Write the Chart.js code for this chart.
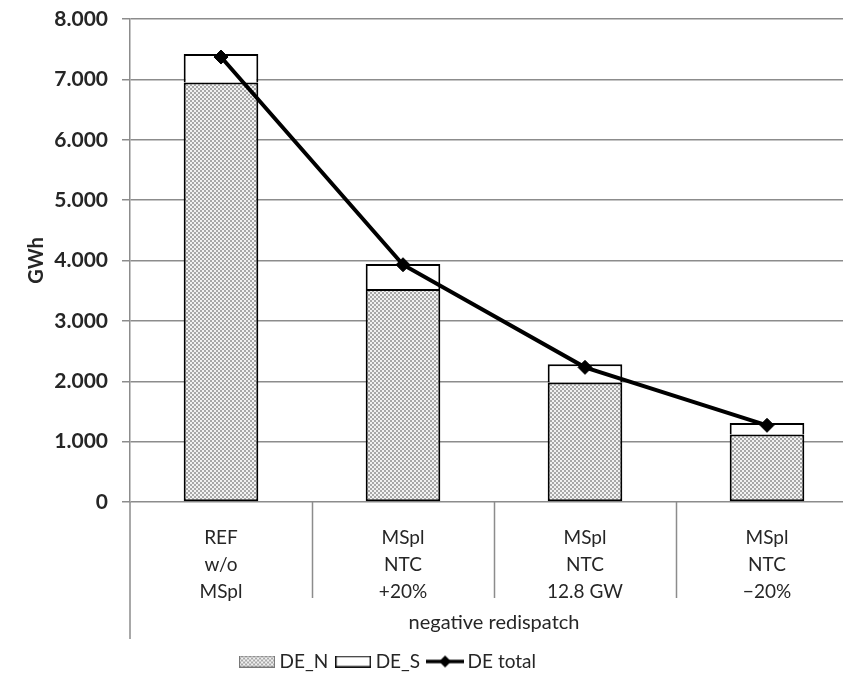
<!DOCTYPE html>
<html>
<head>
<meta charset="utf-8">
<title>Negative redispatch</title>
<script src="https://cdn.jsdelivr.net/npm/chart.js@4/dist/chart.umd.min.js"></script>
<style>
  html, body { margin: 0; padding: 0; background: #fff; overflow: hidden; }
  #c { display: block; }
</style>
</head>
<body>
<canvas id="c" width="870" height="677"></canvas>
<script>
// Scenario categories (multi-line axis labels)
const categories = [
  ['REF', 'w/o', 'MSpl'],
  ['MSpl', 'NTC', '+20%'],
  ['MSpl', 'NTC', '12.8 GW'],
  ['MSpl', 'NTC', '\u221220%']
];
// Negative redispatch volumes in GWh
const deN = [6950, 3530, 1980, 1120];
const deS = [470, 410, 300, 190];
const deTotal = [7370, 3930, 2230, 1270];
const yTicks = { min: 0, max: 8000, step: 1000 };

const canvas = document.getElementById('c');
const ctx = canvas.getContext('2d');

// Fine grey checker fill used for DE_N
function makeTile() {
  const t = document.createElement('canvas');
  t.width = 4; t.height = 4;
  const g = t.getContext('2d');
  g.fillStyle = '#a8a8a8';
  g.fillRect(0, 0, 4, 4);
  g.fillStyle = '#f2f2f2';
  g.fillRect(0, 0, 2, 2);
  g.fillRect(2, 2, 2, 2);
  return t;
}
const tile = makeTile();
const hatch = ctx.createPattern(tile, 'repeat');

// Legend symbols
function swatchN() {
  const c = document.createElement('canvas');
  c.width = 36; c.height = 12;
  const g = c.getContext('2d');
  g.fillStyle = g.createPattern(tile, 'repeat');
  g.fillRect(0, 0, 36, 12);
  g.strokeStyle = '#777';
  g.lineWidth = 1;
  g.strokeRect(0.5, 0.5, 35, 11);
  return c;
}
function swatchS() {
  const c = document.createElement('canvas');
  c.width = 36; c.height = 12;
  const g = c.getContext('2d');
  g.fillStyle = '#fff';
  g.fillRect(0, 0, 36, 12);
  g.strokeStyle = '#111';
  g.lineWidth = 1.5;
  g.strokeRect(0.75, 0.75, 34.5, 10.5);
  return c;
}
function swatchLine() {
  const c = document.createElement('canvas');
  c.width = 38; c.height = 14;
  const g = c.getContext('2d');
  g.strokeStyle = '#000';
  g.lineWidth = 3.5;
  g.beginPath(); g.moveTo(0, 7); g.lineTo(38, 7); g.stroke();
  g.fillStyle = '#000';
  g.beginPath(); g.moveTo(19, 1); g.lineTo(25, 7); g.lineTo(19, 13); g.lineTo(13, 7); g.closePath(); g.fill();
  return c;
}
const legendIcons = [swatchN(), swatchS(), swatchLine()];

const GRID = '#8c8c8c';
const TEXT = '#262626';
const FONT = 'Lato';

// Category dividers below the axis, extended value-axis line, legend placement
const frame = {
  id: 'frame',
  beforeDraw(chart) {
    const lg = chart.legend;
    if (lg && !lg._placed) {
      const w = lg.right - lg.left;
      lg.left = 390 - w / 2;
      lg.right = 390 + w / 2;
      lg.top += 4;
      lg.bottom += 4;
      lg._placed = true;
    }
  },
  afterDraw(chart) {
    const x = chart.scales.x;
    const area = chart.chartArea;
    const c = chart.ctx;
    c.save();
    c.strokeStyle = GRID;
    c.lineWidth = 1.5;
    c.beginPath();
    c.moveTo(area.left, area.bottom);
    c.lineTo(area.left, area.bottom + 137);
    for (let i = 1; i < categories.length; i++) {
      const px = Math.round((x.getPixelForValue(i - 1) + x.getPixelForValue(i)) / 2) + 0.5;
      c.moveTo(px, area.bottom);
      c.lineTo(px, area.bottom + 96);
    }
    c.stroke();
    c.restore();
  }
};

new Chart(ctx, {
  type: 'bar',
  data: {
    labels: categories,
    datasets: [
      {
        type: 'line',
        label: 'DE total',
        data: deTotal,
        stack: 'total',
        order: 0,
        borderColor: '#000',
        backgroundColor: '#000',
        borderWidth: 4,
        pointStyle: 'rectRot',
        pointRadius: 7,
        pointBorderWidth: 1,
        pointBackgroundColor: '#000',
        pointBorderColor: '#000',
        tension: 0
      },
      {
        label: 'DE_N',
        data: deN,
        stack: 'de',
        order: 1,
        backgroundColor: hatch,
        borderColor: '#000',
        borderWidth: 2,
        borderSkipped: false
      },
      {
        label: 'DE_S',
        data: deS,
        stack: 'de',
        order: 2,
        backgroundColor: '#fff',
        borderColor: '#000',
        borderWidth: 2,
        borderSkipped: 'bottom'
      }
    ]
  },
  options: {
    responsive: false,
    animation: false,
    layout: { padding: { top: 19, right: 12, left: 0, bottom: 0 } },
    datasets: {
      bar: { categoryPercentage: 1, barPercentage: 0.41 }
    },
    plugins: {
      tooltip: { enabled: false },
      legend: {
        position: 'bottom',
        labels: {
          usePointStyle: true,
          pointStyleWidth: 26,
          boxHeight: 12,
          padding: 12,
          color: TEXT,
          font: { family: FONT, size: 19 },
          generateLabels() {
            const names = ['DE_N', 'DE_S', 'DE total'];
            return names.map((n, i) => ({
              text: n,
              pointStyle: legendIcons[i],
              fillStyle: '#fff',
              strokeStyle: '#000',
              lineWidth: 0,
              hidden: false,
              fontColor: TEXT,
              datasetIndex: [1, 2, 0][i]
            }));
          }
        }
      }
    },
    scales: {
      x: {
        stacked: true,
        grid: { display: false },
        border: { display: false },
        ticks: {
          autoSkip: false,
          maxRotation: 0,
          padding: 14,
          color: TEXT,
          font: { family: FONT, size: 19, lineHeight: 1.42 }
        },
        title: {
          display: true,
          text: 'negative redispatch',
          color: TEXT,
          font: { family: FONT, size: 20 },
          padding: { top: 0, bottom: 1 }
        },
        afterFit(s) { s.height = 134; s.paddingLeft = 0; s.paddingRight = 0; }
      },
      y: {
        stacked: true,
        min: yTicks.min,
        max: yTicks.max,
        grid: { color: GRID, lineWidth: 1.5, tickLength: 8, drawTicks: true },
        border: { color: GRID, width: 1.5 },
        ticks: {
          stepSize: yTicks.step,
          padding: 14,
          color: TEXT,
          font: { family: FONT, size: 21, weight: 'bold' },
          callback: v => v.toLocaleString('de-DE')
        },
        title: {
          display: true,
          text: 'GWh',
          color: TEXT,
          font: { family: FONT, size: 20, weight: 'bold' },
          padding: { top: 25, bottom: 0 }
        },
        afterFit(s) { s.width = 130; s.paddingTop = 0; s.paddingBottom = 0; }
      }
    }
  },
  plugins: [frame]
});
</script>
</body>
</html>
